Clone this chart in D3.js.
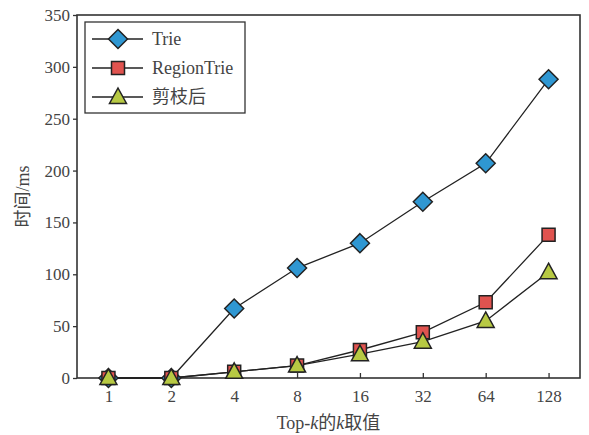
<!DOCTYPE html>
<html>
<head>
<meta charset="utf-8">
<script src="https://cdn.jsdelivr.net/npm/d3@7"></script>
<style>
  body { margin: 0; background: #fff; }
  text { fill: #444; }
</style>
</head>
<body>
<script>
// data
const kValues = ["1", "2", "4", "8", "16", "32", "64", "128"];
const trie = [0, 0, 67, 106, 130, 170, 207, 288];
const regionTrie = [0, 0, 6, 12, 27, 44, 73, 138];
const pruned = [0, 0, 6, 12, 23, 35, 55, 102];
const seriesNames = ["Trie", "RegionTrie", "剪枝后"];
const yTicks = [0, 50, 100, 150, 200, 250, 300, 350];

const W = 589, H = 435;
let margin = {top: 15, right: 9, bottom: 57, left: 77},
    width = W - margin.left - margin.right,
    height = H - margin.top - margin.bottom;

const serif = "'Liberation Serif', 'DejaVu Serif', serif";
const cjk = "'Noto Sans CJK SC', sans-serif";

let svg = d3.select("body").append("svg")
    .attr("width", W)
    .attr("height", H);

let g = svg.append("g")
    .attr("transform", "translate(" + margin.left + "," + margin.top + ")");

let x = d3.scalePoint().domain(kValues).range([0, width]).padding(0.5);
let y = d3.scaleLinear().domain([0, 350]).range([height, 0]);

// axes
let xAxis = g.append("g")
    .attr("transform", "translate(0," + height + ")")
    .call(d3.axisBottom(x).tickSizeInner(-5).tickSizeOuter(0).tickPadding(12));
let yAxis = g.append("g")
    .call(d3.axisLeft(y).tickValues(yTicks).tickSizeInner(4).tickSizeOuter(0).tickPadding(3));

[xAxis, yAxis].forEach(a => {
  a.select(".domain").remove();
  a.selectAll("line").attr("stroke", "#333").attr("stroke-width", 1.3);
  a.selectAll("text")
    .style("font-family", serif)
    .style("font-size", "17px")
    .attr("fill", "#444");
});

// frame
g.append("rect")
    .attr("x", 0).attr("y", 0)
    .attr("width", width).attr("height", height)
    .attr("fill", "none")
    .attr("stroke", "#333")
    .attr("stroke-width", 1.6);

// series
const series = [
  {name: seriesNames[0], values: trie, color: "#2f97d2", shape: "diamond"},
  {name: seriesNames[1], values: regionTrie, color: "#e0534f", shape: "square"},
  {name: seriesNames[2], values: pruned, color: "#b7c943", shape: "triangle"}
];

function drawMarker(sel, shape, color) {
  let p;
  if (shape === "diamond") p = "M0,-9.5L9.5,0L0,9.5L-9.5,0Z";
  else if (shape === "square") p = "M-6.5,-6.5H6.5V6.5H-6.5Z";
  else p = "M0,-9L8.5,6.5H-8.5Z";
  sel.append("path")
    .attr("d", p)
    .attr("fill", color)
    .attr("stroke", "#222")
    .attr("stroke-width", 1.5)
    .attr("stroke-linejoin", "miter");
}

let line = d3.line()
    .x((d, i) => x(kValues[i]))
    .y(d => y(d));

series.forEach(s => {
  g.append("path")
    .datum(s.values)
    .attr("d", line)
    .attr("fill", "none")
    .attr("stroke", "#222")
    .attr("stroke-width", 1.3);
});
series.forEach(s => {
  s.values.forEach((v, i) => {
    let m = g.append("g").attr("transform", "translate(" + x(kValues[i]) + "," + y(v) + ")");
    drawMarker(m, s.shape, s.color);
  });
});

// legend
let legend = g.append("g").attr("transform", "translate(8,7)");
legend.append("rect")
    .attr("width", 160).attr("height", 91)
    .attr("fill", "#fff")
    .attr("stroke", "#333")
    .attr("stroke-width", 1.3);
series.forEach((s, i) => {
  let ly = 17 + i * 29;
  let row = legend.append("g").attr("transform", "translate(0," + ly + ")");
  row.append("line")
    .attr("x1", 7).attr("x2", 58)
    .attr("stroke", "#222").attr("stroke-width", 1.3);
  let m = row.append("g").attr("transform", "translate(33,0)");
  drawMarker(m, s.shape, s.color);
  row.append("text")
    .attr("x", 67).attr("y", 6)
    .style("font-family", i === 2 ? cjk : serif)
    .style("font-size", "18px")
    .text(s.name);
});

// axis labels
let xl = svg.append("text")
    .attr("x", margin.left + width / 2)
    .attr("y", 429)
    .attr("text-anchor", "middle")
    .style("font-size", "18px");
xl.append("tspan").style("font-family", serif).text("Top-");
xl.append("tspan").style("font-family", serif).style("font-style", "italic").text("k");
xl.append("tspan").style("font-family", cjk).text("的");
xl.append("tspan").style("font-family", serif).style("font-style", "italic").text("k");
xl.append("tspan").style("font-family", cjk).text("取值");

let yl = svg.append("text")
    .attr("transform", "translate(29," + (margin.top + height / 2) + ") rotate(-90)")
    .attr("text-anchor", "middle")
    .style("font-size", "18px");
yl.append("tspan").style("font-family", cjk).text("时间");
yl.append("tspan").style("font-family", serif).text("/ms");
</script>
</body>
</html>
